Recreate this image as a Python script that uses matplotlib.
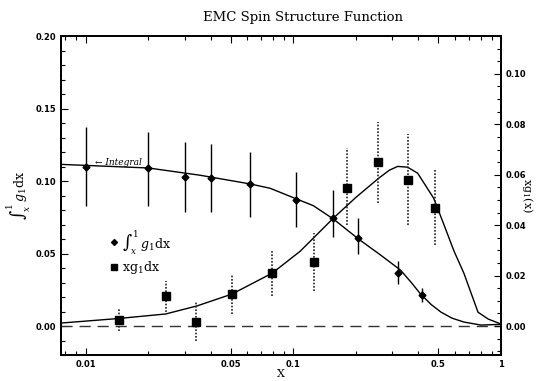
import numpy as np
import matplotlib
matplotlib.use('Agg')
import matplotlib.pyplot as plt
from matplotlib.ticker import FixedLocator, MultipleLocator, LogLocator, NullFormatter

# integral points (left axis), solid error bars
int_x = [0.010, 0.020, 0.030, 0.040, 0.062, 0.103, 0.156, 0.206, 0.318, 0.415]
int_y = [0.110, 0.109, 0.103, 0.102, 0.098, 0.087, 0.0745, 0.061, 0.0366, 0.0214]
int_lo = [0.083, 0.083, 0.079, 0.0786, 0.075, 0.068, 0.0614, 0.050, 0.029, 0.0166]
int_hi = [0.137, 0.134, 0.127, 0.1255, 0.120, 0.106, 0.094, 0.0745, 0.045, 0.026]

# xg1 points (right axis), dotted error bars
xg_x = [0.0145, 0.0244, 0.034, 0.0507, 0.079, 0.126, 0.182, 0.257, 0.356, 0.48]
xg_y = [0.0024, 0.0119, 0.0016, 0.0127, 0.021, 0.0253, 0.0546, 0.065, 0.058, 0.047]
xg_lo = [-0.002, 0.0055, -0.006, 0.0048, 0.0119, 0.0139, 0.040, 0.0487, 0.040, 0.032]
xg_hi = [0.007, 0.018, 0.010, 0.0206, 0.0297, 0.0368, 0.0705, 0.081, 0.076, 0.062]

# fitted curves
int_cx = [0.0076, 0.0201, 0.0356, 0.062, 0.0774, 0.1022, 0.1249, 0.156, 0.2061,
          0.263, 0.3283, 0.37, 0.4105, 0.46, 0.5131, 0.58, 0.6623, 0.80, 1.0]
int_cy = [0.1115, 0.109, 0.104, 0.098, 0.095, 0.088, 0.083, 0.0738, 0.060,
          0.049, 0.0386, 0.030, 0.022, 0.015, 0.0097, 0.0055, 0.0028, 0.0007, 0.0012]
xg_cx = [0.0076, 0.0144, 0.0243, 0.0344, 0.0507, 0.0792, 0.108, 0.156, 0.2, 0.2575,
         0.29, 0.318, 0.355, 0.397, 0.474, 0.530, 0.594, 0.6623, 0.775, 0.867, 1.0]
xg_cy = [0.0012, 0.0030, 0.0048, 0.008, 0.0127, 0.021, 0.0297, 0.0428, 0.051, 0.0586,
         0.0618, 0.0633, 0.0630, 0.0606, 0.0507, 0.0404, 0.0297, 0.021, 0.0055, 0.0028, 0.0008]

xticks = [0.01, 0.05, 0.1, 0.5, 1]
xticklabels = ['0.01', '0.05', '0.1', '0.5', '1']

plt.rcParams['font.family'] = ['DejaVu Sans']
plt.rcParams['mathtext.fontset'] = 'dejavuserif'

fig = plt.figure(figsize=(5.53, 3.81), dpi=100)
ax = fig.add_axes([0.110, 0.068, 0.796, 0.8375])
ax2 = ax.twinx()

ax.set_xscale('log')
ax.set_xlim(0.0076, 1.0)
ax.set_ylim(-0.02, 0.20)
ax2.set_ylim(-0.0115, 0.115)

# zero line
ax.axhline(0, color='#333333', lw=1.0, ls=(0, (8, 5)))

# integral
ax.plot(int_cx, int_cy, color='black', lw=1.0)
ax.errorbar(int_x, int_y,
            yerr=[np.array(int_y) - np.array(int_lo), np.array(int_hi) - np.array(int_y)],
            fmt='D', ms=3.5, color='black', ecolor='black', elinewidth=1.0, capsize=0)

# xg1
ax2.plot(xg_cx, xg_cy, color='black', lw=1.0)
eb = ax2.errorbar(xg_x, xg_y,
                  yerr=[np.array(xg_y) - np.array(xg_lo), np.array(xg_hi) - np.array(xg_y)],
                  fmt='s', ms=5.5, color='black', ecolor='#222222', elinewidth=1.2, capsize=0)
for c in eb[2]:
    c.set_linestyle((0, (1, 1)))

ax.text(0.0111, 0.1125, '\u2190 Integral', fontsize=6.5, family='DejaVu Serif',
        style='italic', va='center')

# legend drawn by hand
ax.plot([0.0137], [0.0580], 'D', color='black', ms=3)
ax.text(0.0150, 0.0580, r'$\int_x^1\, g_1\mathrm{dx}$', fontsize=9, va='center')
ax.plot([0.0137], [0.0405], 's', color='black', ms=5)
ax.text(0.0150, 0.0405, r'$\mathrm{xg_1dx}$', fontsize=9, va='center')

# axes styling
ax.set_xticks(xticks)
ax.set_xticklabels(xticklabels)
ax.xaxis.set_minor_locator(LogLocator(base=10, subs=np.arange(2, 10)))
ax.xaxis.set_minor_formatter(NullFormatter())
ax.yaxis.set_major_locator(FixedLocator([0.0, 0.05, 0.10, 0.15, 0.20]))
ax.yaxis.set_minor_locator(MultipleLocator(0.01))
ax.set_yticklabels(['0.00', '0.05', '0.10', '0.15', '0.20'])
ax2.yaxis.set_major_locator(FixedLocator([0.0, 0.02, 0.04, 0.06, 0.08, 0.10]))
ax2.yaxis.set_minor_locator(MultipleLocator(0.005))
ax2.set_yticklabels(['0.00', '0.02', '0.04', '0.06', '0.08', '0.10'])

ax.tick_params(axis='both', which='both', direction='in', top=True, right=False,
               labelsize=6, width=0.8)
ax.tick_params(which='major', length=5)
ax.tick_params(which='minor', length=3)
ax2.tick_params(axis='y', which='both', direction='in', labelsize=6, width=0.8)
ax2.tick_params(which='major', length=5)
ax2.tick_params(which='minor', length=3)
for a in (ax, ax2):
    for s in a.spines.values():
        s.set_linewidth(1.3)
    for lab in a.get_yticklabels() + a.get_xticklabels():
        lab.set_fontweight('bold')

ax.set_xlabel('X', fontsize=8, family='DejaVu Serif', labelpad=0)
ax.set_ylabel(r'$\int_x^1\, g_1\mathrm{dx}$', fontsize=9, labelpad=2)
ax2.set_ylabel(r'$\mathrm{xg_1(x)}$', fontsize=8, rotation=-90, labelpad=6)
fig.text(0.548, 0.955, 'EMC Spin Structure Function', ha='center', va='center',
         fontsize=9.5, family='DejaVu Serif')

fig.savefig('out.png', dpi=100)
